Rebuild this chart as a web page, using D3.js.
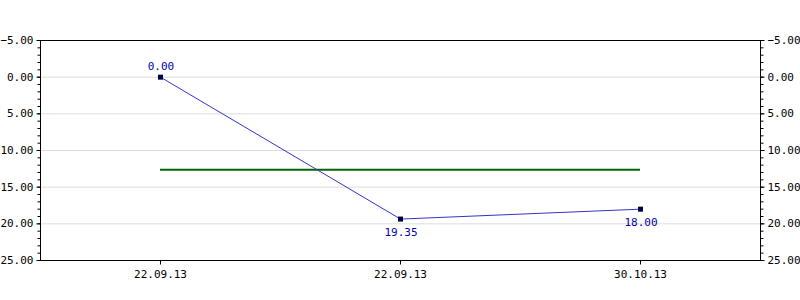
<!DOCTYPE html>
<html><head><meta charset="utf-8">
<script src="https://cdn.jsdelivr.net/npm/d3@7"></script>
<style>body{margin:0;background:#fff}svg{display:block}</style>
</head><body>
<svg id="c" width="800" height="300"></svg>
<script>
const categories = ["22.09.13", "22.09.13", "30.10.13"];
const values = [0.00, 19.35, 18.00];
const labelPos = ["above", "below", "below"];
const averageValue = 12.7;
const yTicks = [-5, 0, 5, 10, 15, 20, 25];
const yMinorTicks = d3.range(-5, 26, 1);

const svg = d3.select("#c");
const L = 40, R = 760, T = 40, B = 260;
const font = "DejaVu Sans Mono, monospace";

const x = d3.scalePoint().domain(d3.range(categories.length)).range([160, 640]);
const y = d3.scaleLinear().domain([-5, 25]).range([T, B]);

// gridlines
svg.append("g").selectAll("line").data(yTicks.filter(v => v > -5 && v < 25)).join("line")
  .attr("x1", L).attr("x2", R).attr("y1", d => y(d) + 0.5).attr("y2", d => y(d) + 0.5)
  .attr("stroke", "#dddddd").attr("stroke-width", 1);

// left axis
svg.append("g").attr("transform", `translate(${L + 0.5},0)`)
  .call(d3.axisLeft(y).tickValues(yTicks).tickFormat(d3.format(".2f")).tickSize(4).tickPadding(3));
const ylm = svg.append("g").attr("transform", `translate(${L + 0.5},0)`)
  .call(d3.axisLeft(y).tickValues(yMinorTicks).tickFormat("").tickSize(3));
ylm.select(".domain").remove();
// right axis
svg.append("g").attr("transform", `translate(${R + 0.5},0)`)
  .call(d3.axisRight(y).tickValues(yTicks).tickFormat(d3.format(".2f")).tickSize(4).tickPadding(3));
const yrm = svg.append("g").attr("transform", `translate(${R + 0.5},0)`)
  .call(d3.axisRight(y).tickValues(yMinorTicks).tickFormat("").tickSize(3));
yrm.select(".domain").remove();
// bottom axis
const xa = svg.append("g").attr("transform", `translate(0,${B + 0.5})`)
  .call(d3.axisBottom(x).tickFormat(i => categories[i]).tickSize(4).tickPadding(6));
xa.select(".domain").remove();
// frame lines top/bottom
svg.append("line").attr("x1", L).attr("x2", R + 1).attr("y1", T + 0.5).attr("y2", T + 0.5).attr("stroke", "#000");
svg.append("line").attr("x1", L).attr("x2", R + 1).attr("y1", B + 0.5).attr("y2", B + 0.5).attr("stroke", "#000");

svg.selectAll(".domain").attr("stroke", "#000").attr("d", function () { return d3.select(this).attr("d").replace(/^M[-\d.]+,/, "M0,").replace(/H[-\d.]+V/, "V").replace(/V([-\d.]+)H[-\d.]+$/, "V$1"); });
svg.selectAll(".tick line").attr("stroke", "#000");
svg.selectAll(".tick text").attr("font-family", font).attr("font-size", 11).attr("fill", "#000");

// average line
svg.append("line").attr("x1", x(0)).attr("x2", x(categories.length - 1))
  .attr("y1", y(averageValue)).attr("y2", y(averageValue))
  .attr("stroke", "#006600").attr("stroke-width", 2);

// series line
svg.append("path").datum(values)
  .attr("d", d3.line().x((d, i) => x(i) + 0.5).y(d => y(d) + 0.5))
  .attr("fill", "none").attr("stroke", "#3333cc").attr("stroke-width", 1);

// markers
svg.append("g").selectAll("rect").data(values).join("rect")
  .attr("x", (d, i) => x(i) - 2).attr("y", d => y(d) - 2).attr("width", 5).attr("height", 5)
  .attr("fill", "#000044").attr("stroke", "none");

// value labels
svg.append("g").selectAll("text").data(values).join("text")
  .attr("x", (d, i) => x(i) + 1)
  .attr("y", (d, i) => labelPos[i] === "above" ? y(d) - 7 : y(d) + 17)
  .attr("text-anchor", "middle").attr("font-family", font).attr("font-size", 11)
  .attr("fill", "#0000aa").text(d => d3.format(".2f")(d));
</script>
</body></html>
